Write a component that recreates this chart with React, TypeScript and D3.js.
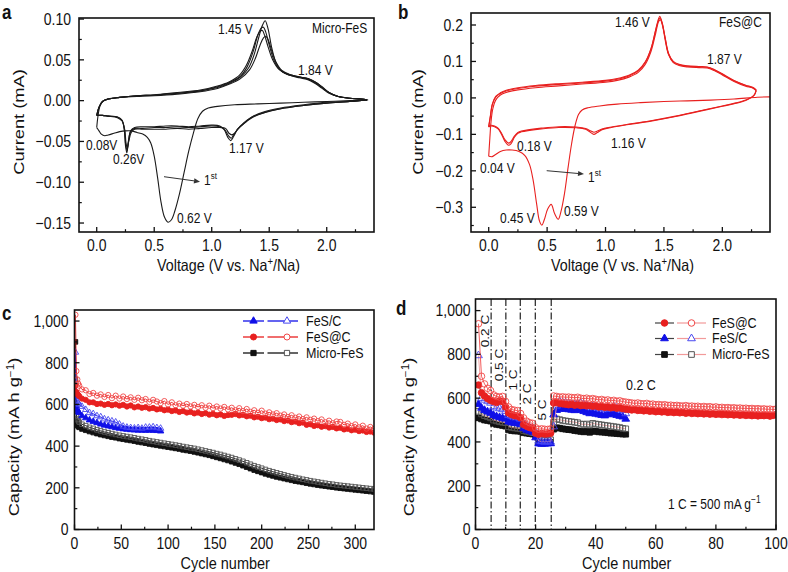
import React from 'react';
import * as d3 from 'd3';

const SY = 1.18;
const FONT = '"Liberation Sans", Arial, Helvetica, sans-serif';
type Pt = [number, number];

// ---------------- Panel a : Micro-FeS CV ----------------
const aCath1: Pt[] = [[2.36,0.001],[2.2,0.0],[2.0,-0.001],[1.8,-0.002],[1.6,-0.003],[1.4,-0.004],[1.2,-0.005],[1.05,-0.007],[0.97,-0.009],[0.92,-0.013],[0.88,-0.022],[0.84,-0.04],[0.8,-0.062],[0.76,-0.088],[0.72,-0.114],[0.68,-0.135],[0.65,-0.146],[0.62,-0.149],[0.59,-0.143],[0.56,-0.125],[0.53,-0.095],[0.5,-0.068],[0.47,-0.052],[0.44,-0.045],[0.4,-0.041],[0.35,-0.039],[0.3,-0.037],[0.25,-0.037],[0.2,-0.038],[0.15,-0.04],[0.1,-0.042],[0.07,-0.043],[0.04,-0.041],[0.02,-0.037],[0.0,-0.033]];
const aAn1: Pt[] = [[0.0,-0.033],[0.01,-0.02],[0.03,-0.006],[0.06,0.0],[0.1,0.002],[0.2,0.004],[0.35,0.006],[0.5,0.007],[0.7,0.009],[0.9,0.012],[1.05,0.016],[1.15,0.021],[1.25,0.029],[1.32,0.04],[1.37,0.057],[1.41,0.078],[1.44,0.092],[1.465,0.098],[1.49,0.088],[1.52,0.066],[1.56,0.046],[1.61,0.036],[1.68,0.031],[1.76,0.028],[1.83,0.026],[1.9,0.021],[1.96,0.015],[2.02,0.009],[2.1,0.005],[2.2,0.003],[2.3,0.002],[2.35,0.001]];
const aAn2: Pt[] = [[0.0,-0.018],[0.02,-0.008],[0.05,-0.001],[0.1,0.002],[0.2,0.004],[0.35,0.006],[0.5,0.007],[0.7,0.009],[0.9,0.012],[1.05,0.017],[1.15,0.022],[1.25,0.03],[1.31,0.042],[1.36,0.06],[1.4,0.08],[1.43,0.089],[1.45,0.09],[1.47,0.084],[1.5,0.068],[1.54,0.05],[1.59,0.038],[1.66,0.032],[1.75,0.029],[1.83,0.027],[1.9,0.022],[1.96,0.016],[2.02,0.01],[2.1,0.005],[2.2,0.003],[2.3,0.002],[2.35,0.001]];
const aAn3: Pt[] = [[0.0,-0.018],[0.02,-0.008],[0.05,-0.001],[0.1,0.002],[0.2,0.004],[0.35,0.006],[0.5,0.007],[0.7,0.01],[0.9,0.013],[1.05,0.018],[1.15,0.023],[1.24,0.031],[1.3,0.043],[1.35,0.06],[1.39,0.077],[1.42,0.085],[1.44,0.086],[1.46,0.08],[1.49,0.066],[1.53,0.05],[1.58,0.039],[1.65,0.033],[1.74,0.03],[1.83,0.027],[1.9,0.023],[1.96,0.017],[2.02,0.01],[2.1,0.005],[2.2,0.003],[2.3,0.002],[2.35,0.001]];
const aAn4: Pt[] = [[0.0,-0.018],[0.02,-0.008],[0.05,-0.001],[0.1,0.002],[0.2,0.004],[0.35,0.005],[0.5,0.006],[0.7,0.008],[0.9,0.011],[1.05,0.015],[1.15,0.02],[1.25,0.027],[1.33,0.038],[1.38,0.052],[1.42,0.068],[1.45,0.077],[1.47,0.079],[1.49,0.075],[1.52,0.062],[1.56,0.047],[1.61,0.037],[1.68,0.032],[1.76,0.029],[1.84,0.027],[1.91,0.022],[1.97,0.015],[2.03,0.009],[2.1,0.005],[2.2,0.003],[2.3,0.002],[2.35,0.001]];
const aCath2: Pt[] = [[2.35,0.001],[2.2,-0.001],[2.0,-0.003],[1.8,-0.006],[1.6,-0.01],[1.45,-0.015],[1.35,-0.02],[1.28,-0.027],[1.22,-0.036],[1.19,-0.044],[1.165,-0.049],[1.14,-0.045],[1.11,-0.036],[1.07,-0.031],[1.0,-0.03],[0.9,-0.031],[0.8,-0.032],[0.7,-0.031],[0.6,-0.031],[0.5,-0.032],[0.4,-0.032],[0.33,-0.033],[0.295,-0.037],[0.275,-0.052],[0.262,-0.064],[0.25,-0.055],[0.24,-0.036],[0.22,-0.024],[0.18,-0.02],[0.1,-0.019],[0.05,-0.018],[0.0,-0.018]];
const aCath3: Pt[] = [[2.35,0.001],[2.2,-0.001],[2.0,-0.003],[1.8,-0.006],[1.6,-0.01],[1.45,-0.015],[1.35,-0.021],[1.28,-0.028],[1.22,-0.036],[1.19,-0.042],[1.17,-0.046],[1.145,-0.043],[1.11,-0.035],[1.07,-0.032],[1.0,-0.031],[0.9,-0.032],[0.8,-0.033],[0.7,-0.032],[0.6,-0.033],[0.5,-0.033],[0.4,-0.034],[0.33,-0.034],[0.295,-0.038],[0.275,-0.05],[0.264,-0.061],[0.252,-0.054],[0.24,-0.035],[0.22,-0.024],[0.18,-0.02],[0.1,-0.019],[0.05,-0.018],[0.0,-0.018]];
const aCath4: Pt[] = [[2.35,0.001],[2.2,-0.001],[2.0,-0.002],[1.8,-0.005],[1.6,-0.009],[1.45,-0.014],[1.35,-0.02],[1.29,-0.027],[1.23,-0.034],[1.2,-0.04],[1.175,-0.042],[1.15,-0.04],[1.12,-0.034],[1.07,-0.033],[1.0,-0.033],[0.9,-0.034],[0.8,-0.035],[0.7,-0.034],[0.6,-0.035],[0.5,-0.035],[0.4,-0.035],[0.33,-0.035],[0.3,-0.039],[0.28,-0.049],[0.266,-0.058],[0.255,-0.052],[0.243,-0.035],[0.22,-0.025],[0.18,-0.021],[0.1,-0.019],[0.05,-0.018],[0.0,-0.018]];
const aCurves: Pt[][] = [aCath1, aAn1, aCath2, aAn2, aCath3, aAn3, aCath4, aAn4];

// ---------------- Panel b : FeS@C CV ----------------
const bCath1: Pt[] = [[2.42,0.003],[2.3,0.002],[2.1,-0.003],[1.9,-0.006],[1.7,-0.008],[1.5,-0.01],[1.3,-0.013],[1.1,-0.017],[0.95,-0.022],[0.85,-0.027],[0.8,-0.033],[0.77,-0.045],[0.74,-0.075],[0.71,-0.125],[0.68,-0.19],[0.65,-0.26],[0.62,-0.31],[0.595,-0.333],[0.565,-0.318],[0.535,-0.292],[0.505,-0.305],[0.475,-0.335],[0.455,-0.349],[0.435,-0.338],[0.41,-0.29],[0.38,-0.225],[0.35,-0.183],[0.31,-0.158],[0.26,-0.147],[0.2,-0.143],[0.15,-0.143],[0.1,-0.147],[0.06,-0.155],[0.03,-0.161],[0.0,-0.16]];
const bAn1: Pt[] = [[0.0,-0.16],[0.01,-0.11],[0.02,-0.065],[0.035,-0.03],[0.06,-0.006],[0.1,0.008],[0.15,0.015],[0.25,0.022],[0.4,0.028],[0.6,0.033],[0.8,0.038],[1.0,0.043],[1.1,0.048],[1.2,0.057],[1.28,0.07],[1.34,0.092],[1.39,0.128],[1.43,0.178],[1.455,0.21],[1.47,0.214],[1.49,0.195],[1.51,0.16],[1.54,0.118],[1.58,0.097],[1.63,0.089],[1.7,0.085],[1.8,0.083],[1.87,0.082],[1.93,0.075],[2.0,0.063],[2.1,0.045],[2.2,0.032],[2.26,0.027],[2.29,0.02]];
const bCath2: Pt[] = [[2.29,0.02],[2.27,0.006],[2.2,-0.007],[2.1,-0.016],[2.0,-0.023],[1.8,-0.037],[1.6,-0.051],[1.4,-0.063],[1.2,-0.073],[1.05,-0.081],[0.97,-0.087],[0.93,-0.095],[0.9,-0.1],[0.87,-0.094],[0.83,-0.086],[0.75,-0.082],[0.6,-0.081],[0.45,-0.085],[0.35,-0.089],[0.28,-0.093],[0.25,-0.097],[0.22,-0.108],[0.19,-0.126],[0.17,-0.13],[0.14,-0.12],[0.11,-0.1],[0.08,-0.085],[0.05,-0.079],[0.02,-0.077],[0.0,-0.08]];
const bAn2: Pt[] = [[0.0,-0.08],[0.015,-0.05],[0.03,-0.02],[0.06,0.002],[0.1,0.012],[0.15,0.019],[0.25,0.026],[0.4,0.032],[0.6,0.037],[0.8,0.041],[1.0,0.046],[1.1,0.051],[1.2,0.06],[1.28,0.074],[1.34,0.097],[1.39,0.135],[1.43,0.188],[1.455,0.218],[1.465,0.224],[1.485,0.205],[1.51,0.165],[1.54,0.12],[1.58,0.099],[1.63,0.091],[1.7,0.087],[1.8,0.085],[1.87,0.084],[1.93,0.077],[2.0,0.065],[2.1,0.047],[2.2,0.034],[2.26,0.028],[2.29,0.021]];
const bCath3: Pt[] = [[2.29,0.021],[2.27,0.007],[2.2,-0.006],[2.1,-0.015],[2.0,-0.022],[1.8,-0.036],[1.6,-0.05],[1.4,-0.062],[1.2,-0.072],[1.05,-0.08],[0.97,-0.085],[0.93,-0.091],[0.9,-0.094],[0.87,-0.09],[0.83,-0.084],[0.75,-0.08],[0.6,-0.079],[0.45,-0.083],[0.35,-0.087],[0.28,-0.091],[0.25,-0.095],[0.22,-0.105],[0.19,-0.12],[0.17,-0.124],[0.14,-0.115],[0.11,-0.097],[0.08,-0.083],[0.05,-0.077],[0.02,-0.075],[0.0,-0.078]];
const bAn3: Pt[] = [[0.0,-0.078],[0.015,-0.048],[0.03,-0.018],[0.06,0.004],[0.1,0.014],[0.15,0.021],[0.25,0.028],[0.4,0.034],[0.6,0.039],[0.8,0.043],[1.0,0.048],[1.1,0.053],[1.2,0.062],[1.28,0.076],[1.34,0.099],[1.39,0.136],[1.43,0.186],[1.455,0.214],[1.468,0.219],[1.488,0.202],[1.51,0.166],[1.54,0.122],[1.58,0.1],[1.63,0.092],[1.7,0.088],[1.8,0.086],[1.87,0.085],[1.93,0.078],[2.0,0.066],[2.1,0.048],[2.2,0.035],[2.26,0.029],[2.29,0.022]];
const bCurves: Pt[][] = [bCath1, bAn1, bCath2, bAn2, bCath3, bAn3];

// ---------------- Panel c : cycling at 0.2 C ----------------
const cCycles = [1,2,3,4,5,8,12,16,20,24,28,32,36,40,44,48,52,56,60,64,68,72,76,80,84,88,92,96,100,104,108,112,116,120,124,128,132,136,140,144,148,152,156,160,164,168,172,176,180,184,188,192,196,200,204,208,212,216,220,224,228,232,236,240,244,248,252,256,260,264,268,272,276,280,284,288,292,296,300,304,308,312,316,320];
const cFeSatC_charge = [1030,760,720,700,690, 672,668,650,655,642,648,636,645,630,642, 628,638,626,634,622,632,620,626,612,622, 614,606,616,600,610,596,604,594,602,590, 598,588,596,584,594,582,590,580,588,576, 584,572,582,568,578,564,572,560,570,556, 562,552,558,546,552,540,548,536,542,530, 538,526,532,520,528,514,522,510,518,516, 502,508,496,504,490,498,484,492,482];
const cFeSatC_disch = [690,660,650,645,640, 628,622,610,610,602,604,598,602,596,600, 594,598,590,595,586,590,584,587,580,583, 576,579,572,575,568,571,564,568,561,564, 557,561,554,558,551,555,548,552,545,549, 550,554,547,550,543,546,538,541,534,537, 529,532,525,528,520,523,515,518,510,513, 502,505,497,500,493,496,489,492,485,488, 480,483,476,479,472,475,468,470,465];
const cMicro_charge = [720,545,530,522,515,505,498,490,485,478,473,468,464,460,456,452,449,446,443,440,436,433,430,426,423,420,417,414,411,408,405,402,398,395,392,389,385,381,377,373,369,364,360,355,350,345,339,333,327,320,313,306,300,294,288,282,277,272,267,262,257,253,249,245,241,238,234,231,228,225,222,219,217,214,212,210,208,206,204,202,200,198,196,194];
const cMicro_disch = [900,515,500,495,490,482,476,470,465,460,455,451,447,443,440,436,433,430,427,424,420,417,414,410,407,404,401,398,395,392,389,386,382,379,376,372,368,364,360,356,351,346,341,336,331,325,319,313,306,299,292,285,279,273,267,262,257,252,248,244,240,236,232,229,226,222,219,216,213,210,208,205,203,200,198,196,194,192,190,188,186,184,182,180];
const cFeSC_cycles = [1,2,3,4,5,8,12,16,20,24,28,32,36,40,44,48,52,56,60,64,68,72,76,80,84,88,92];
const cFeSC_charge = [850,640,615,605,600,590,575,560,555,545,540,530,525,520,515,505,495,490,488,486,488,485,490,490,492,488,485];
const cFeSC_disch = [640,590,575,565,560,545,535,525,518,512,505,500,496,492,488,485,482,480,478,477,476,476,475,476,475,474,472];

// ---------------- Panel d : rate capability ----------------
const dCycles100 = d3.range(1, 101);
const dCycles50 = d3.range(1, 51);
const dFeSatC_charge = [940,700,665,645,635, 615,608,605,608,585, 560,548,545,543,530, 510,495,488,485,465, 458,460,458,457,460, 610,608,605,606,604, 605,603,602,604,600, 598,600,596,598,595, 592,594,590,592,588, 590,586,588,584,582, 580,578,576,578,575, 574,576,572,573,570, 571,569,570,567,568, 566,567,565,564,566, 563,564,562,563,560, 562,560,561,558,560, 557,558,556,557,555, 556,554,555,553,554, 552,553,551,552,550, 551,549,550,548,550];
const dFeSatC_disch = [660,625,610,598,590, 585,580,588,584,560, 532,525,520,518,510, 480,472,466,462,440, 435,438,436,437,440, 578,582,576,574,572, 570,572,568,570,566, 568,565,566,563,565, 560,562,558,560,556, 558,554,556,552,550, 548,546,548,544,545, 542,544,540,542,538, 540,537,539,535,537, 534,536,533,535,531, 534,530,532,529,531, 528,530,527,529,526, 528,525,527,524,526, 523,525,522,524,521, 523,520,522,519,521, 520,522,518,521,524];
const dFeSC_charge = [795,600,592,585,578, 562,556,552,548,540, 522,518,515,512,505, 482,472,466,462,440, 405,402,400,402,400, 470,565,585,580,578, 575,572,570,574,578, 570,565,560,562,558, 555,552,550,556,552, 562,555,548,545,530];
const dFeSC_disch = [572,555,545,538,532, 522,516,512,508,505, 492,488,486,484,480, 462,455,450,445,420, 392,390,391,392,393, 525,545,550,552,550, 548,546,544,548,545, 540,535,530,532,528, 525,522,520,528,525, 530,522,518,515,505];
const dMicro_charge = [540,528,520,515,510, 500,496,492,490,488, 470,466,464,462,460, 452,448,445,442,440, 412,410,408,408,410, 490,505,502,498,496, 494,492,490,488,482, 480,482,478,485,482, 480,478,476,474,472, 470,468,466,462,460];
const dMicro_disch = [510,505,500,498,495, 485,480,478,475,472, 455,452,450,450,448, 442,440,438,436,432, 398,396,396,398,398, 458,465,463,460,458, 456,455,452,450,448, 446,448,444,450,448, 446,445,444,442,440, 440,438,437,436,435];
const dRateBreaks = [5.2, 10.1, 14.9, 19.9, 25.2];
const dRateLabels = ['0.2 C', '0.5 C', '1 C', '2 C', '5 C'];

// ---------------- ticks ----------------
const aXTicks = [0, 0.5, 1.0, 1.5, 2.0];
const aXMinor = [0.25, 0.75, 1.25, 1.75, 2.25];
const aYTicks = [0.10, 0.05, 0, -0.05, -0.10, -0.15];
const aYMinor = [0.075, 0.025, -0.025, -0.075, -0.125];
const bYTicks = [0.2, 0.1, 0, -0.1, -0.2, -0.3];
const bYMinor = [0.15, 0.05, -0.05, -0.15, -0.25, -0.35];
const cXTicks = [0, 50, 100, 150, 200, 250, 300];
const cXMinor = [25, 75, 125, 175, 225, 275];
const capTicks = [0, 200, 400, 600, 800, 1000];
const capMinor = [100, 300, 500, 700, 900];
const dXTicks = [0, 20, 40, 60, 80, 100];
const dXMinor = [10, 30, 50, 70, 90];

const RED = '#e8201f';
const RED_OPEN = '#f04848';
const BLUE = '#1010e8';
const BLUE_OPEN = '#4848f0';
const BLACK = '#111111';
const GRAY_OPEN = '#555555';
const PINK = '#f29a9a';

function Txt({ x, y, size = 14, anchor = 'start', rot = 0, weight = 'normal', fill = '#111', children }: any) {
  return (
    <text
      transform={`translate(${x},${y}) scale(1,${SY})${rot ? ` rotate(${rot})` : ''}`}
      fontSize={size}
      textAnchor={anchor}
      fontWeight={weight}
      fill={fill}
      fontFamily={FONT}
    >
      {children}
    </text>
  );
}

function Axes({ L, R, T, B, x, y, xTicks, xMinor, yTicks, yMinor, xFmt, yFmt, yGap, xLabY }: any) {
  return (
    <g>
      {xTicks.map((t: number) => <line key={'xt' + t} x1={x(t)} x2={x(t)} y1={B} y2={B - 5} stroke="#111" strokeWidth={1.3} />)}
      {xMinor.map((t: number) => <line key={'xm' + t} x1={x(t)} x2={x(t)} y1={B} y2={B - 2.8} stroke="#111" strokeWidth={1.2} />)}
      {yTicks.map((t: number) => <line key={'yt' + t} x1={L} x2={L + 5} y1={y(t)} y2={y(t)} stroke="#111" strokeWidth={1.3} />)}
      {yMinor.map((t: number) => <line key={'ym' + t} x1={L} x2={L + 2.8} y1={y(t)} y2={y(t)} stroke="#111" strokeWidth={1.2} />)}
      <rect x={L} y={T} width={R - L} height={B - T} fill="none" stroke="#111" strokeWidth={1.6} />
      {xTicks.map((t: number) => <Txt key={'xl' + t} x={x(t)} y={xLabY} anchor="middle">{xFmt(t)}</Txt>)}
      {yTicks.map((t: number) => <Txt key={'yl' + t} x={L - yGap} y={y(t) + 5.8} anchor="end">{yFmt(t)}</Txt>)}
    </g>
  );
}

const symPath = (shape: string, size: number) =>
  d3.symbol().type(shape === 'circle' ? d3.symbolCircle : shape === 'triangle' ? d3.symbolTriangle : d3.symbolSquare).size(size)() as string;

function Series({ xs, ys, x, y, shape, size, color, filled, lineColor, lineW = 0.9 }: any) {
  const line = d3.line<number>().x((_, i) => x(xs[i])).y((v) => y(v));
  const p = symPath(shape, size);
  return (
    <g>
      <path d={line(ys) as string} fill="none" stroke={lineColor} strokeWidth={lineW} />
      {ys.map((v: number, i: number) => (
        <path key={i} d={p} transform={`translate(${x(xs[i])},${y(v)})`} fill={filled ? color : 'none'} stroke={color} strokeWidth={0.9} />
      ))}
    </g>
  );
}

function Arrow({ x1, y1, x2, y2 }: any) {
  const ang = Math.atan2(y2 - y1, x2 - x1);
  const L = 6, Wd = 2.6;
  const bx = x2 - L * Math.cos(ang), by = y2 - L * Math.sin(ang);
  const px = -Math.sin(ang) * Wd, py = Math.cos(ang) * Wd;
  return (
    <g>
      <line x1={x1} y1={y1} x2={bx} y2={by} stroke="#333" strokeWidth={1} />
      <path d={`M${x2},${y2}L${bx + px},${by + py}L${bx - px},${by - py}Z`} fill="#333" />
    </g>
  );
}

export default function App() {
  // panel a
  const aL = 79, aR = 374, aT = 18, aB = 232;
  const ax = d3.scaleLinear().domain([-0.154, 2.411]).range([aL, aR]);
  const ay = d3.scaleLinear().domain([-0.161, 0.1013]).range([aB, aT]);
  // panel b
  const bL = 471, bR = 770, bT = 13, bB = 232;
  const bx = d3.scaleLinear().domain([-0.1515, 2.408]).range([bL, bR]);
  const by = d3.scaleLinear().domain([-0.3678, 0.2329]).range([bB, bT]);
  // panel c
  const cL = 74.5, cR = 374, cT = 310, cB = 529.5;
  const cx = d3.scaleLinear().domain([0, 320]).range([cL, cR]);
  const cy = d3.scaleLinear().domain([0, 1053]).range([cB, cT]);
  // panel d
  const dL = 475.5, dR = 776, dT = 299, dB = 529.5;
  const dx = d3.scaleLinear().domain([0, 100]).range([dL, dR]);
  const dy = d3.scaleLinear().domain([0, 1053]).range([dB, dT]);

  const cvA = d3.line<Pt>().x((p) => ax(p[0])).y((p) => ay(p[1])).curve(d3.curveCatmullRom.alpha(0.5));
  const cvB = d3.line<Pt>().x((p) => bx(p[0])).y((p) => by(p[1])).curve(d3.curveCatmullRom.alpha(0.5));

  const f2 = (v: number) => d3.format('.2f')(v);
  const f1 = (v: number) => d3.format('.1f')(v);
  const fc = (v: number) => d3.format(',')(v);
  const fi = (v: number) => String(v);

  const legendC = [
    { label: 'FeS/C', shape: 'triangle', color: BLUE, open: BLUE_OPEN, y: 321 },
    { label: 'FeS@C', shape: 'circle', color: RED, open: RED_OPEN, y: 337 },
    { label: 'Micro-FeS', shape: 'square', color: BLACK, open: GRAY_OPEN, y: 353 },
  ];
  const legendD = [
    { label: 'FeS@C', shape: 'circle', color: RED, open: RED_OPEN, y: 323 },
    { label: 'FeS/C', shape: 'triangle', color: BLUE, open: BLUE_OPEN, y: 338.5 },
    { label: 'Micro-FeS', shape: 'square', color: BLACK, open: GRAY_OPEN, y: 354.5 },
  ];
  const cSize: any = { circle: 22, triangle: 18, square: 21 };
  const dSize: any = { circle: 34, triangle: 26, square: 32 };

  return (
    <svg width={788} height={572} style={{ position: 'absolute', left: 0, top: 0, background: '#fff' }}>
      <defs>
        <clipPath id="clipA"><rect x={aL} y={aT} width={aR - aL} height={aB - aT} /></clipPath>
        <clipPath id="clipB"><rect x={bL} y={bT} width={bR - bL} height={bB - bT} /></clipPath>
        <clipPath id="clipC"><rect x={cL} y={cT} width={cR - cL} height={cB - cT} /></clipPath>
        <clipPath id="clipD"><rect x={dL} y={dT} width={dR - dL} height={dB - dT} /></clipPath>
      </defs>
      <rect x={0} y={0} width={788} height={572} fill="#fff" />

      {/* ---------- Panel a ---------- */}
      <g clipPath="url(#clipA)">
        {aCurves.map((c, i) => <path key={i} d={cvA(c) as string} fill="none" stroke="#1a1a1a" strokeWidth={1.1} />)}
      </g>
      <Axes L={aL} R={aR} T={aT} B={aB} x={ax} y={ay} xTicks={aXTicks} xMinor={aXMinor} yTicks={aYTicks} yMinor={aYMinor} xFmt={f1} yFmt={f2} yGap={8} xLabY={251} />
      <Txt x={2} y={19} size={17} weight="bold">a</Txt>
      <Txt x={24} y={122} size={15.5} anchor="middle" rot={-90}>Current (mA)</Txt>
      <Txt x={(aL + aR) / 2 + 2} y={271} size={14.3} anchor="middle">Voltage (V vs. Na<tspan dy={-5} fontSize={9.5}>+</tspan><tspan dy={5}>/Na)</tspan></Txt>
      <Txt x={312} y={33} size={12}>Micro-FeS</Txt>
      <Txt x={218} y={34} size={12}>1.45 V</Txt>
      <Txt x={298} y={75} size={12}>1.84 V</Txt>
      <Txt x={86} y={150} size={12}>0.08V</Txt>
      <Txt x={113} y={164} size={12}>0.26V</Txt>
      <Txt x={229} y={153} size={12}>1.17 V</Txt>
      <Txt x={177} y={223} size={12}>0.62 V</Txt>
      <Arrow x1={164} y1={176.7} x2={200} y2={181.7} />
      <Txt x={204} y={185} size={12}>1<tspan dy={-5} fontSize={8}>st</tspan></Txt>

      {/* ---------- Panel b ---------- */}
      <g clipPath="url(#clipB)">
        {bCurves.map((c, i) => <path key={i} d={cvB(c) as string} fill="none" stroke={RED} strokeWidth={1.1} />)}
      </g>
      <Axes L={bL} R={bR} T={bT} B={bB} x={bx} y={by} xTicks={aXTicks} xMinor={aXMinor} yTicks={bYTicks} yMinor={bYMinor} xFmt={f1} yFmt={f1} yGap={8} xLabY={251} />
      <Txt x={398} y={19} size={17} weight="bold">b</Txt>
      <Txt x={423} y={122} size={15.5} anchor="middle" rot={-90}>Current (mA)</Txt>
      <Txt x={(bL + bR) / 2 + 2} y={271} size={14.3} anchor="middle">Voltage (V vs. Na<tspan dy={-5} fontSize={9.5}>+</tspan><tspan dy={5}>/Na)</tspan></Txt>
      <Txt x={719} y={27} size={12}>FeS@C</Txt>
      <Txt x={615} y={27} size={12}>1.46 V</Txt>
      <Txt x={707} y={64} size={12}>1.87 V</Txt>
      <Txt x={517} y={151} size={12}>0.18 V</Txt>
      <Txt x={611} y={148} size={12}>1.16 V</Txt>
      <Txt x={480} y={173} size={12}>0.04 V</Txt>
      <Txt x={500} y={223} size={12}>0.45 V</Txt>
      <Txt x={564} y={216} size={12}>0.59 V</Txt>
      <Arrow x1={546.7} y1={170.7} x2={584} y2={174} />
      <Txt x={588} y={182} size={12}>1<tspan dy={-5} fontSize={8}>st</tspan></Txt>

      {/* ---------- Panel c ---------- */}
      <g clipPath="url(#clipC)">
        <Series xs={cCycles} ys={cMicro_disch} x={cx} y={cy} shape="square" size={cSize.square} color={BLACK} filled lineColor={BLACK} />
        <Series xs={cCycles} ys={cMicro_charge} x={cx} y={cy} shape="square" size={cSize.square} color={GRAY_OPEN} filled={false} lineColor={BLACK} />
        <Series xs={cFeSC_cycles} ys={cFeSC_disch} x={cx} y={cy} shape="triangle" size={cSize.triangle} color={BLUE} filled lineColor={BLUE} />
        <Series xs={cFeSC_cycles} ys={cFeSC_charge} x={cx} y={cy} shape="triangle" size={cSize.triangle} color={BLUE_OPEN} filled={false} lineColor={BLUE} />
        <Series xs={cCycles} ys={cFeSatC_disch} x={cx} y={cy} shape="circle" size={cSize.circle} color={RED} filled lineColor={RED} />
        <Series xs={cCycles} ys={cFeSatC_charge} x={cx} y={cy} shape="circle" size={cSize.circle} color={RED_OPEN} filled={false} lineColor={RED} />
      </g>
      <Axes L={cL} R={cR} T={cT} B={cB} x={cx} y={cy} xTicks={cXTicks} xMinor={cXMinor} yTicks={capTicks} yMinor={capMinor} xFmt={fi} yFmt={fc} yGap={6} xLabY={549} />
      <Txt x={2} y={320} size={17} weight="bold">c</Txt>
      <Txt x={19} y={437} size={15.5} anchor="middle" rot={-90}>Capacity (mA h g<tspan dy={-5} fontSize={10}>−1</tspan><tspan dy={5}>)</tspan></Txt>
      <Txt x={(cL + cR) / 2 + 1} y={569} size={14.5} anchor="middle">Cycle number</Txt>
      {legendC.map((l) => (
        <g key={l.label}>
          <line x1={243} x2={264} y1={l.y} y2={l.y} stroke={l.color} strokeWidth={1.3} />
          <path d={symPath(l.shape, cSize[l.shape] * 1.3)} transform={`translate(253.5,${l.y})`} fill={l.color} stroke={l.color} />
          <line x1={267.5} x2={298} y1={l.y} y2={l.y} stroke={l.color} strokeWidth={1.3} />
          <path d={symPath(l.shape, cSize[l.shape] * 1.3)} transform={`translate(287,${l.y})`} fill="#fff" stroke={l.open} strokeWidth={1} />
          <Txt x={306} y={l.y + 4.5} size={12.5}>{l.label}</Txt>
        </g>
      ))}

      {/* ---------- Panel d ---------- */}
      {dRateBreaks.map((c) => (
        <line key={'rb' + c} x1={dx(c)} x2={dx(c)} y1={dT} y2={dB} stroke="#222" strokeWidth={1.2} strokeDasharray="7,2.5,1.5,2.5" />
      ))}
      <g clipPath="url(#clipD)">
        <Series xs={dCycles50} ys={dMicro_disch} x={dx} y={dy} shape="square" size={dSize.square} color={BLACK} filled lineColor="#333" />
        <Series xs={dCycles50} ys={dMicro_charge} x={dx} y={dy} shape="square" size={dSize.square} color={GRAY_OPEN} filled={false} lineColor={PINK} />
        <Series xs={dCycles50} ys={dFeSC_disch} x={dx} y={dy} shape="triangle" size={dSize.triangle} color={BLUE} filled lineColor="#333" />
        <Series xs={dCycles50} ys={dFeSC_charge} x={dx} y={dy} shape="triangle" size={dSize.triangle} color={BLUE_OPEN} filled={false} lineColor={PINK} />
        <Series xs={dCycles100} ys={dFeSatC_disch} x={dx} y={dy} shape="circle" size={dSize.circle} color={RED} filled lineColor="#333" />
        <Series xs={dCycles100} ys={dFeSatC_charge} x={dx} y={dy} shape="circle" size={dSize.circle} color={RED_OPEN} filled={false} lineColor={RED_OPEN} />
      </g>
      <Axes L={dL} R={dR} T={dT} B={dB} x={dx} y={dy} xTicks={dXTicks} xMinor={dXMinor} yTicks={capTicks} yMinor={capMinor} xFmt={fi} yFmt={fc} yGap={5} xLabY={549} />
      <Txt x={396} y={315} size={17} weight="bold">d</Txt>
      <Txt x={414} y={437} size={15.5} anchor="middle" rot={-90}>Capacity (mA h g<tspan dy={-5} fontSize={10}>−1</tspan><tspan dy={5}>)</tspan></Txt>
      <Txt x={(dL + dR) / 2 + 1} y={569} size={14.5} anchor="middle">Cycle number</Txt>
      {dRateLabels.map((lab, i) => {
        const pos = [[489, 331], [503, 365], [517, 380], [531, 394], [546, 410]][i];
        return <Txt key={lab} x={pos[0]} y={pos[1]} size={11.5} anchor="middle" rot={-90}>{lab}</Txt>;
      })}
      <Txt x={626} y={390} size={12.5}>0.2 C</Txt>
      <Txt x={668} y={509} size={12}>1 C = 500 mA g<tspan dy={-5} fontSize={8.5}>−1</tspan></Txt>
      {legendD.map((l) => (
        <g key={l.label}>
          <line x1={655} x2={674} y1={l.y} y2={l.y} stroke="#444" strokeWidth={1.2} />
          <path d={symPath(l.shape, dSize[l.shape])} transform={`translate(664.5,${l.y})`} fill={l.color} stroke={l.color} />
          <line x1={677} x2={706} y1={l.y} y2={l.y} stroke={PINK} strokeWidth={1.2} />
          <path d={symPath(l.shape, dSize[l.shape])} transform={`translate(691.5,${l.y})`} fill="#fff" stroke={l.open} strokeWidth={1} />
          <Txt x={712} y={l.y + 4.5} size={12.5}>{l.label}</Txt>
        </g>
      ))}
    </svg>
  );
}
